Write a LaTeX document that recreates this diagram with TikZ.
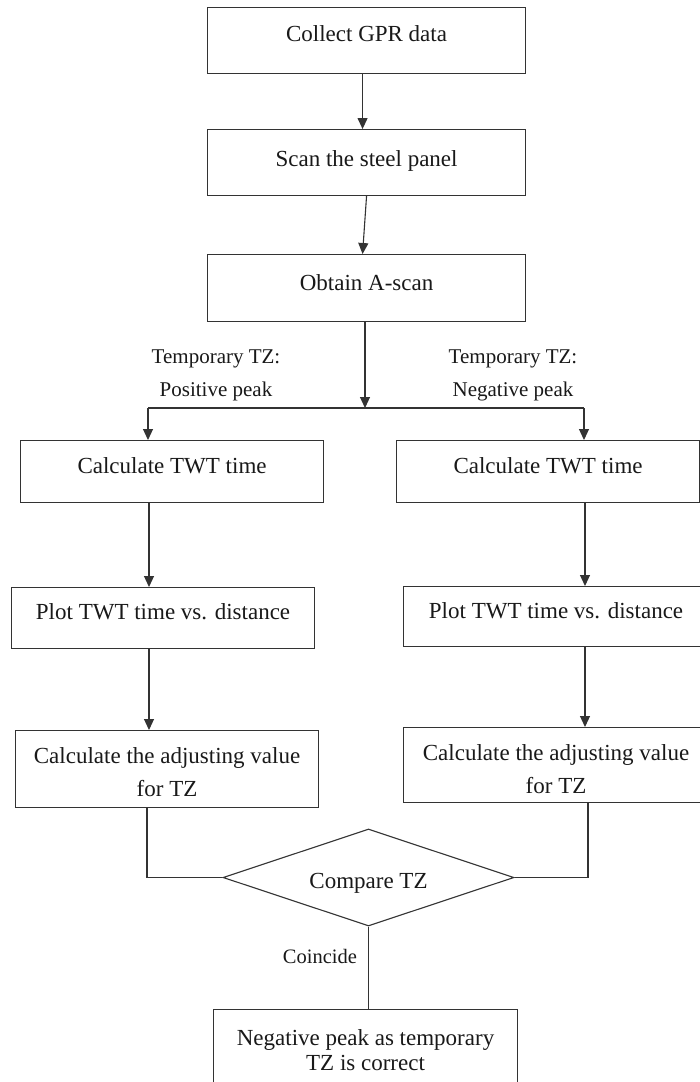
\documentclass[tikz,border=0pt]{standalone}
\usepackage{fontspec}
\setmainfont{Liberation Serif}
\usetikzlibrary{arrows.meta,shapes.geometric,calc}

\tikzset{
  stepbox/.style={draw=black!80, line width=1.1pt, rectangle, inner sep=0pt,
    anchor=north west, font=\fontsize{23}{26}\selectfont, text=black!90},
  decision/.style={draw=black!80, line width=1.1pt, diamond, aspect=3, inner sep=0pt,
    font=\fontsize{23}{26}\selectfont, text=black!90},
  branchlabel/.style={inner sep=0pt, anchor=base, font=\fontsize{21}{24}\selectfont, text=black!90},
  link/.style={draw=black!80, line width=1.1pt},
  arr/.style={link, -{Triangle[length=11pt,width=10pt]}}
}

\begin{document}
\begin{tikzpicture}[x=1pt, y=-1pt]
  \path[use as bounding box, fill=white] (0,0) rectangle (700,1082);
  \clip (0,0) rectangle (700,1082);

  % main trunk
  \node[stepbox, minimum width=318pt, text height=34pt, text depth=32pt]
    (collect) at (207,7) {Collect GPR data};
  \node[stepbox, minimum width=318pt, text height=37pt, text depth=29pt]
    (scan) at (207,129) {Scan the steel panel};
  \node[stepbox, minimum width=318pt, text height=36pt, text depth=31pt]
    (ascan) at (207,254) {Obtain A-scan};

  % two branches
  \node[stepbox, minimum width=303pt, text height=33pt, text depth=29pt]
    (twtL) at (20,440) {Calculate TWT time};
  \node[stepbox, minimum width=303pt, text height=33pt, text depth=29pt]
    (twtR) at (396,440) {Calculate TWT time};
  \node[stepbox, minimum width=303pt, text height=32pt, text depth=29pt]
    (plotL) at (11,587) {Plot TWT time vs. distance};
  \node[stepbox, minimum width=305pt, text height=32pt, text depth=28pt]
    (plotR) at (403,586) {Plot TWT time vs. distance};
  \node[stepbox, minimum width=303pt, text height=33pt, text depth=44pt]
    (calcL) at (15,730)
    {\parbox[t]{303pt}{\centering\baselineskip=33pt Calculate the adjusting value\\for TZ}};
  \node[stepbox, minimum width=305pt, text height=33pt, text depth=42pt]
    (calcR) at (403,727)
    {\parbox[t]{305pt}{\centering\baselineskip=33pt Calculate the adjusting value\\for TZ}};

  % comparison and outcome
  \node[decision, minimum width=291pt, minimum height=97pt, text height=22pt, text depth=0pt]
    (cmp) at (368.5,877.5) {Compare TZ};
  \node[stepbox, minimum width=304pt, text height=36pt, text depth=60pt]
    (result) at (213,1009)
    {\parbox[t]{304pt}{\centering\baselineskip=25pt Negative peak as temporary\\TZ is correct}};

  % branch labels
  \node[branchlabel] (lblL) at (216,363)
    {\parbox[t]{200pt}{\centering\baselineskip=33pt Temporary TZ:\\Positive peak}};
  \node[branchlabel] (lblR) at (513,363)
    {\parbox[t]{200pt}{\centering\baselineskip=33pt Temporary TZ:\\Negative peak}};
  \node[branchlabel, font=\fontsize{20.5}{24}\selectfont] (lblC) at (320,963) {Coincide};

  % connectors
  \coordinate (split) at (365,408);
  \coordinate (jL) at (148,408);
  \coordinate (jR) at (584,408);
  \coordinate (vL) at (149,0);
  \coordinate (vR) at (585,0);
  \coordinate (dL) at (147,0);
  \coordinate (dR) at (588,0);

  \draw[arr] ($(collect.south)+(-4,0)$) -- ($(scan.north)+(-4,0)$);
  \draw[arr] (scan.south) -- ($(ascan.north)+(-4,0)$);
  \draw[arr] (split |- ascan.south) -- (split);
  \draw[link] (jL) -- (jR);
  \draw[arr] (jL) -- (jL |- twtL.north);
  \draw[arr] (jR) -- (jR |- twtR.north);
  \draw[arr] (vL |- twtL.south) -- (vL |- plotL.north);
  \draw[arr] (vR |- twtR.south) -- (vR |- plotR.north);
  \draw[arr] (vL |- plotL.south) -- (vL |- calcL.north);
  \draw[arr] (vR |- plotR.south) -- (vR |- calcR.north);
  \draw[link] (dL |- calcL.south) |- (cmp.west);
  \draw[link] (dR |- calcR.south) |- (cmp.east);
  \draw[link] (cmp.south) -- (cmp.south |- result.north);
\end{tikzpicture}
\end{document}
